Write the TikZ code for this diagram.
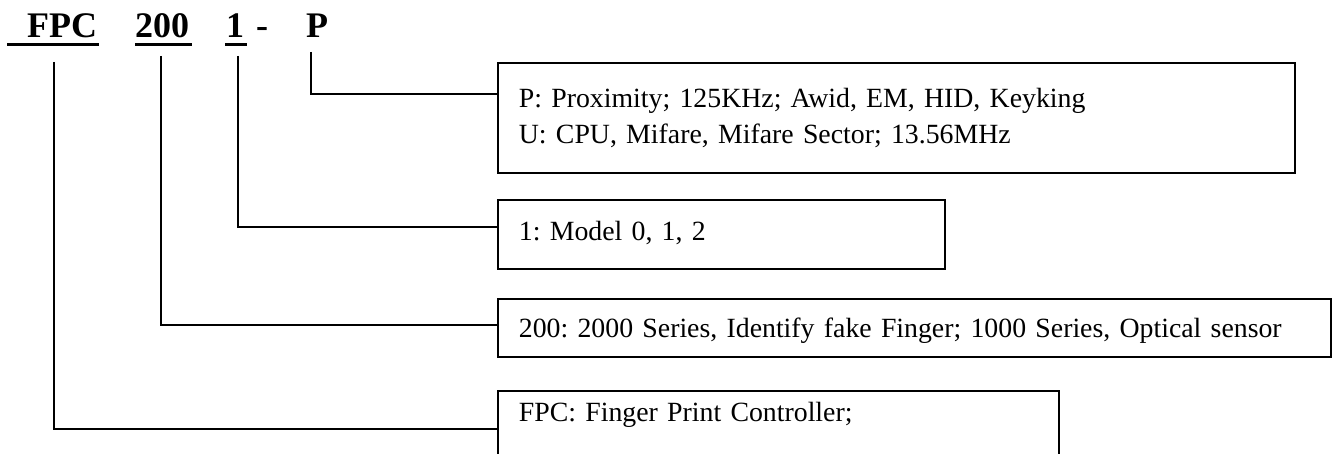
\documentclass[tikz,border=0pt]{standalone}
\usepackage{fontspec}
\setmainfont{Liberation Serif}
\usetikzlibrary{calc}

\newcommand\boxfont{\fontsize{27.8}{36}\selectfont\frenchspacing}
\newcommand\codefont{\fontsize{36}{40}\selectfont\bfseries}

\tikzset{
	codepart/.style={font=\codefont, anchor=base west, inner sep=0pt},
	codebox/.style={draw, line width=1.8pt, anchor=north west, font=\boxfont,
		align=left, inner xsep=21pt, inner ysep=0pt},
	codeline/.style={line width=1.6pt},
	codeunder/.style={line width=3pt}
}

\begin{document}
\begin{tikzpicture}[x=1pt,y=-1pt]
	\useasboundingbox (0,0) rectangle (1337,454);
	\clip (0,0) rectangle (1337,454);
		% model code
			\node[codepart] (fpc)  at (27,38)  {FPC};
			\node[codepart] (ser)  at (135,38) {200};
			\node[codepart] (mod)  at (226,38) {1};
			\node[codepart] (dash) at (256,38) {-};
			\node[codepart] (card) at (306,38) {P};
			\foreach \a/\b in {7/99,135/192,225/247}{
				\draw[codeunder] (\a,45) -- (\b,45);
				}
		% boxes
			\node[codebox, text width=755pt, minimum height=110pt]
				(cardbox) at (497,62)
				{P: Proximity; 125KHz; Awid, EM, HID, Keyking\\U: CPU, Mifare, Mifare Sector; 13.56MHz};
			\node[codebox, text width=405pt, text height=41pt, text depth=28pt]
				(modbox) at (497,199) {1: Model 0, 1, 2};
			\node[codebox, text width=791pt, text height=39pt, text depth=19pt]
				(serbox) at (497,298) {200: 2000 Series, Identify fake Finger; 1000 Series, Optical sensor};
			\node[codebox, text width=519pt, text height=31pt, text depth=60pt]
				(fpcbox) at (497,390) {FPC: Finger Print Controller;};
		% leads
			\path (311,52) coordinate (card-t)
				  (238,56) coordinate (mod-t)
				  (161,56) coordinate (ser-t)
				  (54,62)  coordinate (fpc-t);
			\draw[codeline] (card-t) |- ($(cardbox.north west)+(0,32)$);
			\draw[codeline] (mod-t)  |- ($(modbox.north west)+(0,28)$);
			\draw[codeline] (ser-t)  |- ($(serbox.north west)+(0,27)$);
			\draw[codeline] (fpc-t)  |- ($(fpcbox.north west)+(0,39)$);
\end{tikzpicture}
\end{document}
